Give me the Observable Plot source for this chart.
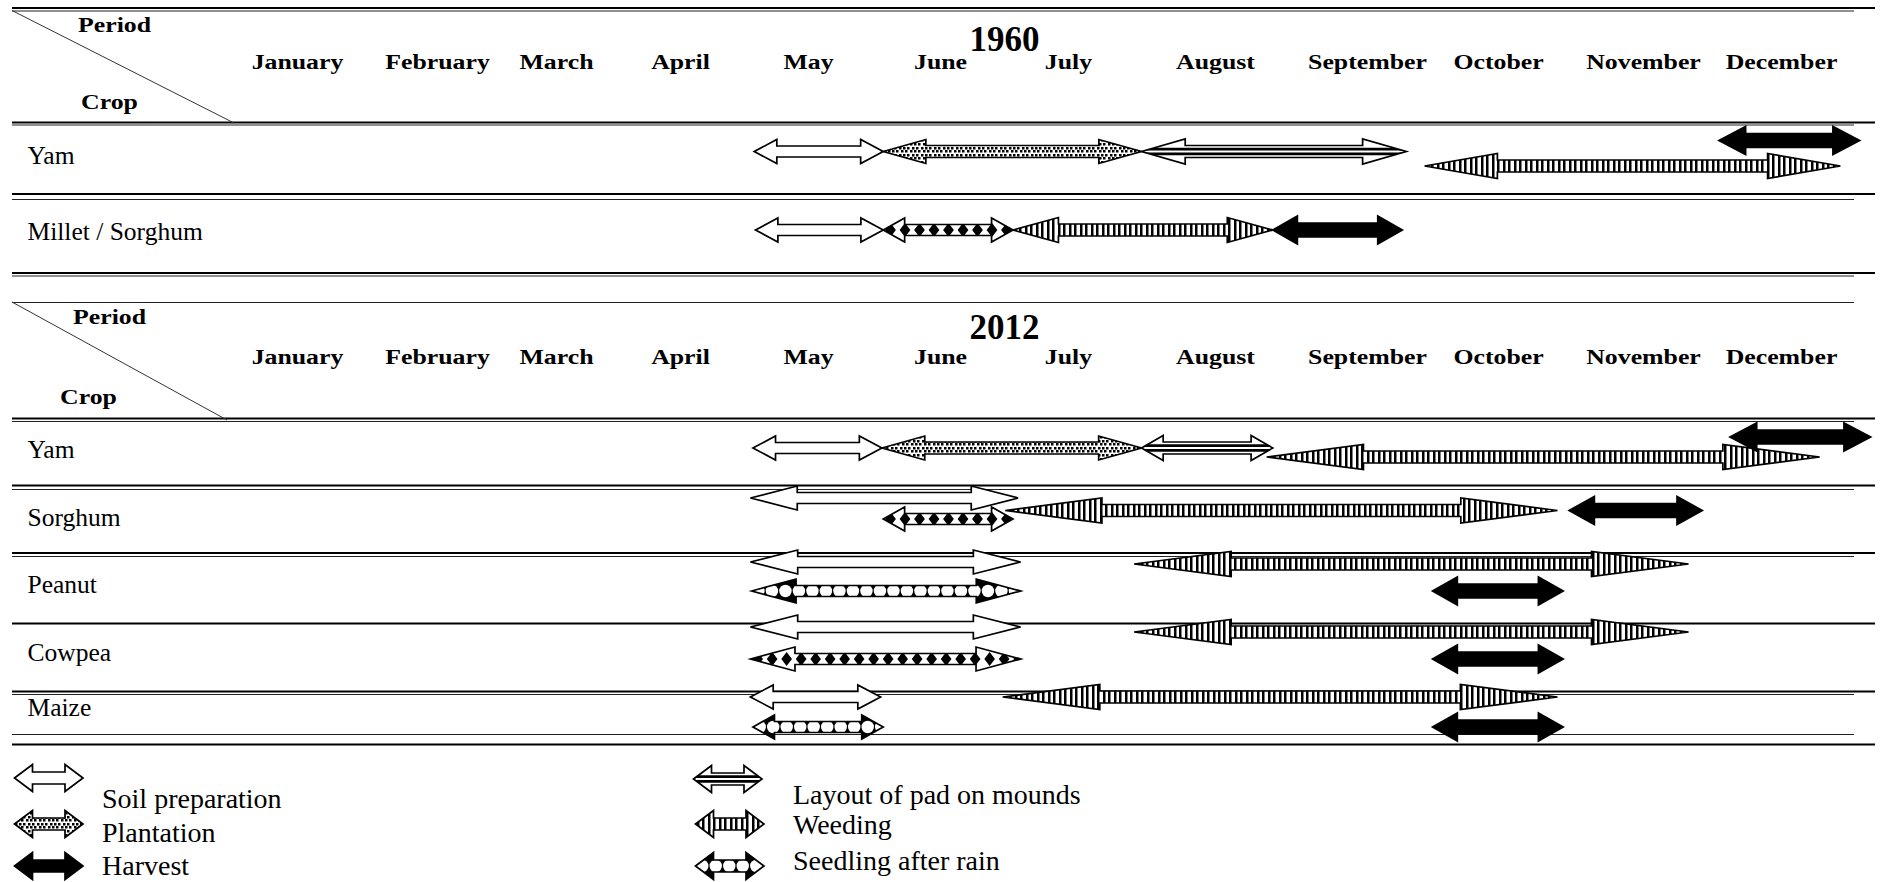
<!DOCTYPE html>
<html>
<head>
<meta charset="utf-8">
<script src="https://cdn.jsdelivr.net/npm/d3@7"></script>
<script src="https://cdn.jsdelivr.net/npm/@observablehq/plot@0.6"></script>
<style>
html, body { margin: 0; padding: 0; background: #fff; }
#page { position: relative; width: 1881px; height: 882px; overflow: hidden; font-family: "Liberation Serif", "Times New Roman", serif; }
.leg-icon { position: absolute; }
.leg-text { position: absolute; font-size: 28px; line-height: 28px; white-space: nowrap; color: #000; }
</style>
</head>
<body>
<div id="page"></div>
<script>
// ================= DATA =================
const months = ["January", "February", "March", "April", "May", "June", "July", "August", "September", "October", "November", "December"];
const years = ["1960", "2012"];
const crops1960 = ["Yam", "Millet / Sorghum"];
const crops2012 = ["Yam", "Sorghum", "Peanut", "Cowpea", "Maize"];
const activities = ["Soil preparation", "Plantation", "Harvest", "Layout of pad on mounds", "Weeding", "Seedling after rain"];
const headerLabels = ["Period", "Crop"];

// [crop, activity, start, end, track]; month numbers: 1 = January (label centre) ... 12 = December
const tasks1960 = [
  ["Yam", "Soil preparation", 4.58, 5.57, "mid"],
  ["Yam", "Plantation", 5.57, 7.50, "mid"],
  ["Yam", "Layout of pad on mounds", 7.50, 9.30, "mid"],
  ["Yam", "Weeding", 9.44, 12.43, "low"],
  ["Yam", "Harvest", 11.55, 12.57, "high"],
  ["Millet / Sorghum", "Soil preparation", 4.59, 5.57, "mid"],
  ["Millet / Sorghum", "Seedling after rain", 5.57, 6.57, "mid"],
  ["Millet / Sorghum", "Weeding", 6.57, 8.38, "mid"],
  ["Millet / Sorghum", "Harvest", 8.38, 9.27, "mid"]
];
const tasks2012 = [
  ["Yam", "Soil preparation", 4.57, 5.56, "mid"],
  ["Yam", "Plantation", 5.56, 7.50, "mid"],
  ["Yam", "Layout of pad on mounds", 7.50, 8.38, "mid"],
  ["Yam", "Weeding", 8.34, 12.28, "low"],
  ["Yam", "Harvest", 11.63, 12.65, "high"],
  ["Sorghum", "Soil preparation", 4.55, 6.61, "high"],
  ["Sorghum", "Seedling after rain", 5.57, 6.57, "low"],
  ["Sorghum", "Weeding", 6.51, 10.41, "mid"],
  ["Sorghum", "Harvest", 10.49, 11.43, "mid"],
  ["Peanut", "Soil preparation", 4.55, 6.63, "high"],
  ["Peanut", "Seedling after rain", 4.56, 6.63, "low"],
  ["Peanut", "Weeding", 7.45, 11.33, "mid"],
  ["Peanut", "Harvest", 9.50, 10.45, "low"],
  ["Cowpea", "Soil preparation", 4.55, 6.63, "high"],
  ["Cowpea", "Seedling after rain", 4.55, 6.63, "low"],
  ["Cowpea", "Weeding", 7.45, 11.33, "mid"],
  ["Cowpea", "Harvest", 9.50, 10.45, "low"],
  ["Maize", "Soil preparation", 4.55, 5.55, "high"],
  ["Maize", "Seedling after rain", 4.57, 5.57, "low"],
  ["Maize", "Weeding", 6.49, 10.41, "high"],
  ["Maize", "Harvest", 9.50, 10.45, "low"]
];

// ================= LAYOUT (table geometry, px) =================
const FONT = '"Liberation Serif", "Times New Roman", serif';
const W = 1881, H_MAIN = 752;
const monthCenters = [297, 437, 556, 680, 808, 940, 1068, 1215, 1367, 1498, 1643, 1781];
const thickRules = [7.5, 122, 193.5, 272.5, 418, 485, 552.5, 623, 691, 744];
const thinRules = [10.5, 124.5, 199, 275.5, 302, 421, 489, 556, 694, 734];
const trackY = {
  "1960|Yam": {high: 140.5, mid: 151.5, low: 166},
  "1960|Millet / Sorghum": {mid: 230},
  "2012|Yam": {high: 437, mid: 448, low: 457},
  "2012|Sorghum": {high: 498, mid: 510.5, low: 519},
  "2012|Peanut": {high: 562, mid: 564, low: 591},
  "2012|Cowpea": {high: 627, mid: 632, low: 659},
  "2012|Maize": {high: 697, low: 727}
};
const rowLabelBaseline = {
  "1960|Yam": 163, "1960|Millet / Sorghum": 239,
  "2012|Yam": 457, "2012|Sorghum": 525, "2012|Peanut": 592, "2012|Cowpea": 660, "2012|Maize": 715
};
const headerLayout = {
  "1960": {Period: 31, year: 50, month: 68.5, Crop: 108, PeriodDx: 102, CropDx: 97, diag: [10.5, 123, 222]},
  "2012": {Period: 323, year: 338, month: 363, Crop: 403, PeriodDx: 97, CropDx: 76, diag: [302, 420, 215]}
};
const diamondRows = new Set(["1960|Millet / Sorghum", "2012|Sorghum", "2012|Cowpea"]);
const HEADER_FS = 21.5, HEADER_STRETCH = 1.2;

// ================= ARROW DRAWING =================
const SVGNS = "http://www.w3.org/2000/svg";
function el(name, attrs, parent) {
  const e = document.createElementNS(SVGNS, name);
  for (const k in attrs) e.setAttribute(k, attrs[k]);
  if (parent) parent.appendChild(e);
  return e;
}
const arrowStyle = {
  "Soil preparation": {H: 12, s: 5.5, frac: 0.175, kind: "plain"},
  "Plantation": {H: 12, s: 6, frac: 0.165, kind: "dots"},
  "Harvest": {H: 14, s: 7, frac: 0.19, kind: "solid"},
  "Layout of pad on mounds": {H: 12.5, s: 6, frac: 0.165, kind: "hlines"},
  "Weeding": {H: 12.5, s: 6, frac: 0.175, kind: "vlines"},
  "Seedling after rain": {H: 12, s: 5.5, frac: 0.165, kind: "circles"}
};
let clipCounter = 0;
function drawArrow(parent, xL, xR, yc, activity, opts = {}) {
  const st = Object.assign({}, arrowStyle[activity], opts);
  const len = xR - xL;
  const hl = st.headLen != null ? st.headLen : st.frac * len;
  const H = st.H, s = st.s;
  const d = `M${xL},${yc}L${xL + hl},${yc - H}L${xL + hl},${yc - s}L${xR - hl},${yc - s}L${xR - hl},${yc - H}L${xR},${yc}` +
            `L${xR - hl},${yc + H}L${xR - hl},${yc + s}L${xL + hl},${yc + s}L${xL + hl},${yc + H}Z`;
  const g = el("g", {}, parent);
  const kind = st.kind;
  const sw = 1.7;
  if (kind === "plain" || kind === "solid") {
    el("path", {d, fill: kind === "solid" ? "#000" : "#fff", stroke: "#000", "stroke-width": sw}, g);
    return g;
  }
  const id = "arrclip" + (clipCounter++);
  const cp = el("clipPath", {id}, g);
  el("path", {d}, cp);
  const inner = el("g", {"clip-path": `url(#${id})`}, g);
  let p = "";
  if (kind === "dots") {
    el("path", {d, fill: "#fff"}, inner);
    for (let k = -3; k <= 3; k++) {
      const yy = Math.round(yc + k * 3.6 - 1.3);
      const ox = (k & 1) ? 2.2 : 0;
      for (let x = xL + ox; x < xR; x += 4.4) p += `M${Math.round(x)},${yy}h2.5v2.5h-2.5z`;
    }
    el("path", {d: p, fill: "#000"}, inner);
  } else if (kind === "hlines") {
    el("path", {d, fill: "#fff"}, inner);
    el("path", {d: `M${xL},${yc - 2.4}H${xR}M${xL},${yc + 2.4}H${xR}`, stroke: "#000", "stroke-width": 2.8, fill: "none"}, inner);
  } else if (kind === "vlines") {
    el("path", {d, fill: "#fff"}, inner);
    for (let x = xL + 1; x < xR; x += 5.5) p += `M${Math.round(x)},${yc - H - 1}h2.5v${2 * H + 2}h-2.5z`;
    el("path", {d: p, fill: "#000"}, inner);
  } else if (kind === "circles") {
    el("path", {d, fill: "#000"}, inner);
    const per = 13.5;
    for (let x = xL + per / 2; x < xR; x += per) el("ellipse", {cx: x, cy: yc, rx: 6.2, ry: 6.2, fill: "#fff"}, inner);
  } else if (kind === "diamonds") {
    el("path", {d, fill: "#fff"}, inner);
    const per = 14.5;
    for (let x = xL + per / 2; x < xR; x += per) p += `M${(x - 5.4).toFixed(1)},${yc}L${x.toFixed(1)},${yc - 7}L${(x + 5.4).toFixed(1)},${yc}L${x.toFixed(1)},${yc + 7}Z`;
    el("path", {d: p, fill: "#000"}, inner);
  }
  el("path", {d, fill: "none", stroke: "#000", "stroke-width": sw}, g);
  return g;
}

function taskArrows(year, tasks) {
  return (index, scales) => {
    const g = el("g", {"aria-label": "arrows " + year});
    for (const [crop, activity, start, end, track] of tasks) {
      const key = year + "|" + crop;
      const opts = (activity === "Seedling after rain" && diamondRows.has(key)) ? {kind: "diamonds"} : {};
      drawArrow(g, scales.x(start), scales.x(end), scales.y(trackY[key][track]), activity, opts);
    }
    return g;
  };
}

function diagonals(index, scales, values, dimensions) {
  const g = el("g", {"aria-label": "header diagonals"});
  for (const yr of years) {
    const [y1, y2, w] = headerLayout[yr].diag;
    const x0 = dimensions.marginLeft;
    el("line", {x1: x0, y1: scales.y(y1), x2: x0 + w, y2: scales.y(y2), stroke: "#333", "stroke-width": 1}, g);
  }
  return g;
}

// ================= MAIN CHART =================
const headerMarks = years.flatMap(yr => {
  const L = headerLayout[yr];
  return [
    Plot.text(months, {x: (d, i) => i + 1, y: L.month, text: d => d, fontWeight: "bold", fontSize: HEADER_FS, lineAnchor: "bottom"}),
    Plot.text([yr], {x: 6.5, y: L.year, text: d => d, fontWeight: "bold", fontSize: 35, lineAnchor: "bottom"}),
    ...headerLabels.map(lab => Plot.text([lab], {frameAnchor: "left", dx: L[lab + "Dx"], y: L[lab], text: d => d, textAnchor: "middle", fontWeight: "bold", fontSize: HEADER_FS, lineAnchor: "bottom"}))
  ];
});

const chart = Plot.plot({
  width: W,
  height: H_MAIN,
  marginLeft: 12, marginRight: 6, marginTop: 0, marginBottom: 0,
  x: {type: "linear", domain: d3.range(1, 13), range: monthCenters, axis: null},
  y: {type: "linear", domain: [0, H_MAIN], range: [0, H_MAIN], axis: null},
  style: {fontFamily: FONT, background: "#fff", color: "#000", overflow: "visible"},
  marks: [
    Plot.ruleY(thinRules, {stroke: "#222", strokeWidth: 1, insetRight: 21}),
    Plot.ruleY(thickRules, {stroke: "#000", strokeWidth: 2}),
    diagonals,
    ...headerMarks,
    Plot.text(crops1960, {frameAnchor: "left", dx: 15, y: d => rowLabelBaseline["1960|" + d], text: d => d, textAnchor: "start", fontSize: 25.5, lineAnchor: "bottom"}),
    Plot.text(crops2012, {frameAnchor: "left", dx: 15, y: d => rowLabelBaseline["2012|" + d], text: d => d, textAnchor: "start", fontSize: 25.5, lineAnchor: "bottom"}),
    taskArrows("1960", tasks1960),
    taskArrows("2012", tasks2012)
  ]
});

// header text in the reference is slightly stretched horizontally
const stretchSet = new Set([...months, ...headerLabels]);
chart.querySelectorAll("text").forEach(t => {
  if (!stretchSet.has(t.textContent)) return;
  const tr = t.getAttribute("transform");
  if (tr) t.setAttribute("transform", tr + ` scale(${HEADER_STRETCH},1)`);
});

const page = document.getElementById("page");
chart.style.position = "absolute";
chart.style.left = "0px";
chart.style.top = "0px";
page.appendChild(chart);

// ================= LEGEND =================
const legendLayout = {
  "Soil preparation": {icon: [13, 778], text: [102, 808]},
  "Plantation": {icon: [13, 824], text: [102, 842]},
  "Harvest": {icon: [13, 866], text: [102, 875]},
  "Layout of pad on mounds": {icon: [692, 779], text: [793, 804]},
  "Weeding": {icon: [694, 824], text: [793, 834]},
  "Seedling after rain": {icon: [694, 866], text: [793, 870]}
};
for (const act of activities) {
  const L = legendLayout[act];
  const icon = Plot.plot({
    width: 72, height: 32, margin: 0,
    x: {type: "linear", domain: [0, 1], range: [1.5, 70], axis: null},
    y: {type: "linear", domain: [0, 1], range: [0, 32], axis: null},
    style: {background: "transparent", overflow: "visible"},
    marks: [
      Plot.ruleY([0.5], {stroke: "none"}),
      Plot.ruleX([0, 1], {stroke: "none"}),
      (index, scales) => {
        const g = el("g", {"aria-label": "legend " + act});
        drawArrow(g, scales.x(0), scales.x(1), scales.y(0.5), act, {headLen: 18, H: 13.5, s: 6});
        return g;
      }
    ]
  });
  icon.classList.add("leg-icon");
  icon.style.left = L.icon[0] + "px";
  icon.style.top = (L.icon[1] - 16) + "px";
  page.appendChild(icon);
  const tx = document.createElement("div");
  tx.className = "leg-text";
  tx.textContent = act;
  tx.style.left = L.text[0] + "px";
  tx.style.top = (L.text[1] - 23.5) + "px";
  page.appendChild(tx);
}
</script>
</body>
</html>
